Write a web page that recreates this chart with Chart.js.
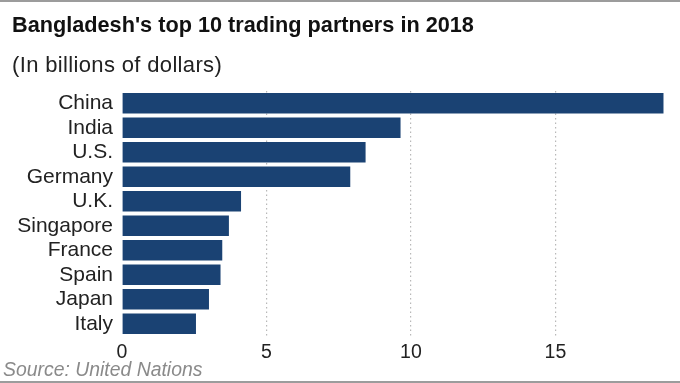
<!DOCTYPE html>
<html>
<head>
<meta charset="utf-8">
<script src="https://cdn.jsdelivr.net/npm/chart.js@4"></script>
<style>
  html, body { margin: 0; padding: 0; background: #fff; }
  #wrap { position: relative; width: 680px; height: 383px; overflow: hidden; background: #fff; font-family: "Liberation Sans", Arial, sans-serif; }
  #c { position: absolute; left: 0; top: 0; }
  .txt { position: absolute; white-space: nowrap; line-height: 1; }
  #title { left: 12px; top: 13.8px; font-size: 21.7px; font-weight: bold; color: #111; }
  #sub { left: 12px; top: 53.5px; font-size: 22px; letter-spacing: 0.35px; color: #222; }
  #src { left: 3px; top: 360px; font-size: 19.4px; font-style: italic; color: #8a8a8a; }
  .rule { position: absolute; left: 0; width: 680px; height: 2px; background: #9c9c9c; }
</style>
</head>
<body>
<div id="wrap">
  <canvas id="c" width="680" height="383"></canvas>
  <div class="rule" style="top:0"></div>
  <div class="rule" style="top:381px"></div>
  <div class="txt" id="title">Bangladesh's top 10 trading partners in 2018</div>
  <div class="txt" id="sub">(In billions of dollars)</div>
  <div class="txt" id="src">Source: United Nations</div>
</div>
<script>
const categories = ["China", "India", "U.S.", "Germany", "U.K.", "Singapore", "France", "Spain", "Japan", "Italy"];
const tradeValues = [18.74, 9.64, 8.43, 7.9, 4.12, 3.7, 3.47, 3.41, 3.01, 2.56];
const xTickValues = [0, 5, 10, 15];

new Chart(document.getElementById('c'), {
  type: 'bar',
  data: {
    labels: categories,
    datasets: [{
      data: tradeValues,
      backgroundColor: '#1a4273',
      borderWidth: 0,
      barPercentage: 0.84,
      categoryPercentage: 1.0
    }]
  },
  options: {
    indexAxis: 'y',
    responsive: false,
    animation: false,
    devicePixelRatio: 1,
    layout: { padding: { top: 91, right: 9, left: 0, bottom: 0 } },
    plugins: { legend: { display: false }, tooltip: { enabled: false }, title: { display: false } },
    scales: {
      x: {
        min: 0, max: 19,
        afterBuildTicks: (s) => { s.ticks = xTickValues.map(v => ({ value: v })); },
        afterFit: (s) => { s.height = 47; },
        grid: {
          drawTicks: false,
          color: (ctx) => (ctx.tick && ctx.tick.value === 0) ? 'rgba(0,0,0,0)' : '#b8b8b8',
          lineWidth: 1.2
        },
        border: { display: false, dash: [1.5, 3] },
        ticks: {
          padding: 5,
          color: '#222',
          font: { family: '"Liberation Sans", Arial, sans-serif', size: 19.5 }
        }
      },
      y: {
        afterFit: (s) => { s.width = 122; },
        grid: { display: false, drawTicks: false },
        border: { display: false },
        ticks: {
          autoSkip: false,
          padding: 9,
          color: '#222',
          font: { family: '"Liberation Sans", Arial, sans-serif', size: 21 }
        }
      }
    }
  }
});
</script>
</body>
</html>
